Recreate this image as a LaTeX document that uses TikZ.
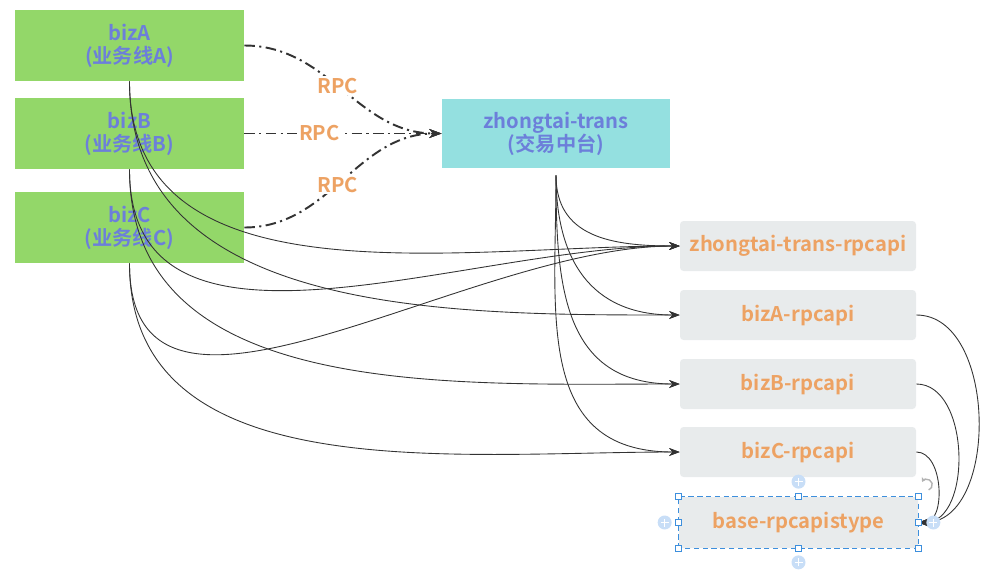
\documentclass[tikz,border=0pt]{standalone}
\usepackage{fontspec}
\setmainfont{Noto Sans CJK SC}[BoldFont={* Bold}]
\usetikzlibrary{arrows.meta}
\definecolor{bizgreen}{HTML}{93D769}
\definecolor{ztcyan}{HTML}{94E0E0}
\definecolor{apigray}{HTML}{E8EBEC}
\definecolor{txtblue}{HTML}{6C7FDA}
\definecolor{txtorange}{HTML}{EDA263}
\definecolor{linegray}{HTML}{333333}
\definecolor{selblue}{HTML}{3D8FDD}
\definecolor{pluscirc}{HTML}{C8DEF7}

\begin{document}
\begin{tikzpicture}[>={Stealth[length=6pt,width=4.5pt]},
  font=\fontsize{11.5}{13}\selectfont\bfseries,
  bizbox/.style={fill=bizgreen, text=txtblue, align=center,
    minimum width=4.58cm, minimum height=1.42cm, inner sep=0pt},
  ztbox/.style={fill=ztcyan, text=txtblue, align=center,
    minimum width=4.56cm, minimum height=1.38cm, inner sep=0pt},
  apibox/.style={fill=apigray, text=txtorange, rounded corners=2pt,
    minimum width=4.72cm, minimum height=1.0cm, inner sep=0pt},
  rpc/.style={-{Stealth[length=7pt,width=5pt]}, linegray, line width=1.1pt,
    dash pattern=on 6pt off 2.5pt on 1.2pt off 2.5pt},
  rpclabel/.style={fill=white, text=txtorange, inner sep=1pt},
  dep/.style={->, linegray, line width=0.5pt},
  handle/.style={draw=selblue, fill=white, line width=0.6pt,
    minimum size=0.12cm, inner sep=0pt},
  plusdot/.style={circle, fill=pluscirc, minimum size=0.28cm, inner sep=0pt}]

  \useasboundingbox (0,0) rectangle (19.72,-11.6);

  %% business lines
  \node[bizbox] (bizA) at (2.59,-0.91) {bizA\\(业务线A)};
  \node[bizbox] (bizB) at (2.59,-2.67) {bizB\\(业务线B)};
  \node[bizbox] (bizC) at (2.59,-4.55) {bizC\\(业务线C)};

  %% trade middle platform
  \node[ztbox] (zt) at (11.12,-2.67) {zhongtai-trans\\(交易中台)};

  %% rpc api packages
  \node[apibox] (ztapi) at (15.96,-4.92) {zhongtai-trans-rpcapi};
  \node[apibox] (aapi)  at (15.96,-6.30) {bizA-rpcapi};
  \node[apibox] (bapi)  at (15.96,-7.68) {bizB-rpcapi};
  \node[apibox] (capi)  at (15.96,-9.04) {bizC-rpcapi};
  \node[apibox, minimum width=4.78cm, minimum height=1.02cm]
    (base) at (15.97,-10.45) {base-rpcapistype};

  %% RPC calls
  \draw[rpc] (bizA.east) to[out=0,in=180] node[rpclabel,pos=0.47] {RPC} (zt.west);
  \draw[rpc] (bizB.east) -- node[rpclabel,pos=0.38] {RPC} (zt.west);
  \draw[rpc] (bizC.east) to[out=0,in=180] node[rpclabel,pos=0.47] {RPC} (zt.west);

  %% dependencies
  \foreach \src/\dst in {bizA/ztapi,bizB/ztapi,bizC/ztapi,
                         bizA/aapi,bizB/bapi,bizC/capi}
    \draw[dep] (\src.south) to[out=-90,in=180] (\dst.west);
  \foreach \dst in {ztapi,aapi,bapi,capi}
    \draw[dep, shorten <=0.14cm] (zt.south) to[out=-90,in=180,looseness=1.2] (\dst.west);
  \foreach \src in {aapi,bapi,capi}
    \draw[dep] (\src.east) to[out=0,in=0] (base.east);

  %% selection marks on base box
  \draw[selblue, line width=0.6pt, dash pattern=on 3pt off 2pt]
    (base.south west) rectangle (base.north east);
  \foreach \a in {north west,north,north east,west,east,south west,south,south east}
    \node[handle] at (base.\a) {};
  \foreach \a/\dx/\dy in {north/0/0.3, south/0/-0.28, west/-0.28/0, east/0.3/0}{
    \node[plusdot] (p-\a) at ([shift={(\dx,\dy)}]base.\a) {};
    \draw[white, line width=0.8pt] ([xshift=-0.08cm]p-\a.center) -- ([xshift=0.08cm]p-\a.center);
    \draw[white, line width=0.8pt] ([yshift=-0.08cm]p-\a.center) -- ([yshift=0.08cm]p-\a.center);
  }
  \draw[gray!60, line width=0.8pt, <-, >={Stealth[length=2.5pt,width=3pt]}]
    (18.44,-9.64) arc[start angle=150, end angle=-70, radius=0.11];
\end{tikzpicture}
\end{document}
